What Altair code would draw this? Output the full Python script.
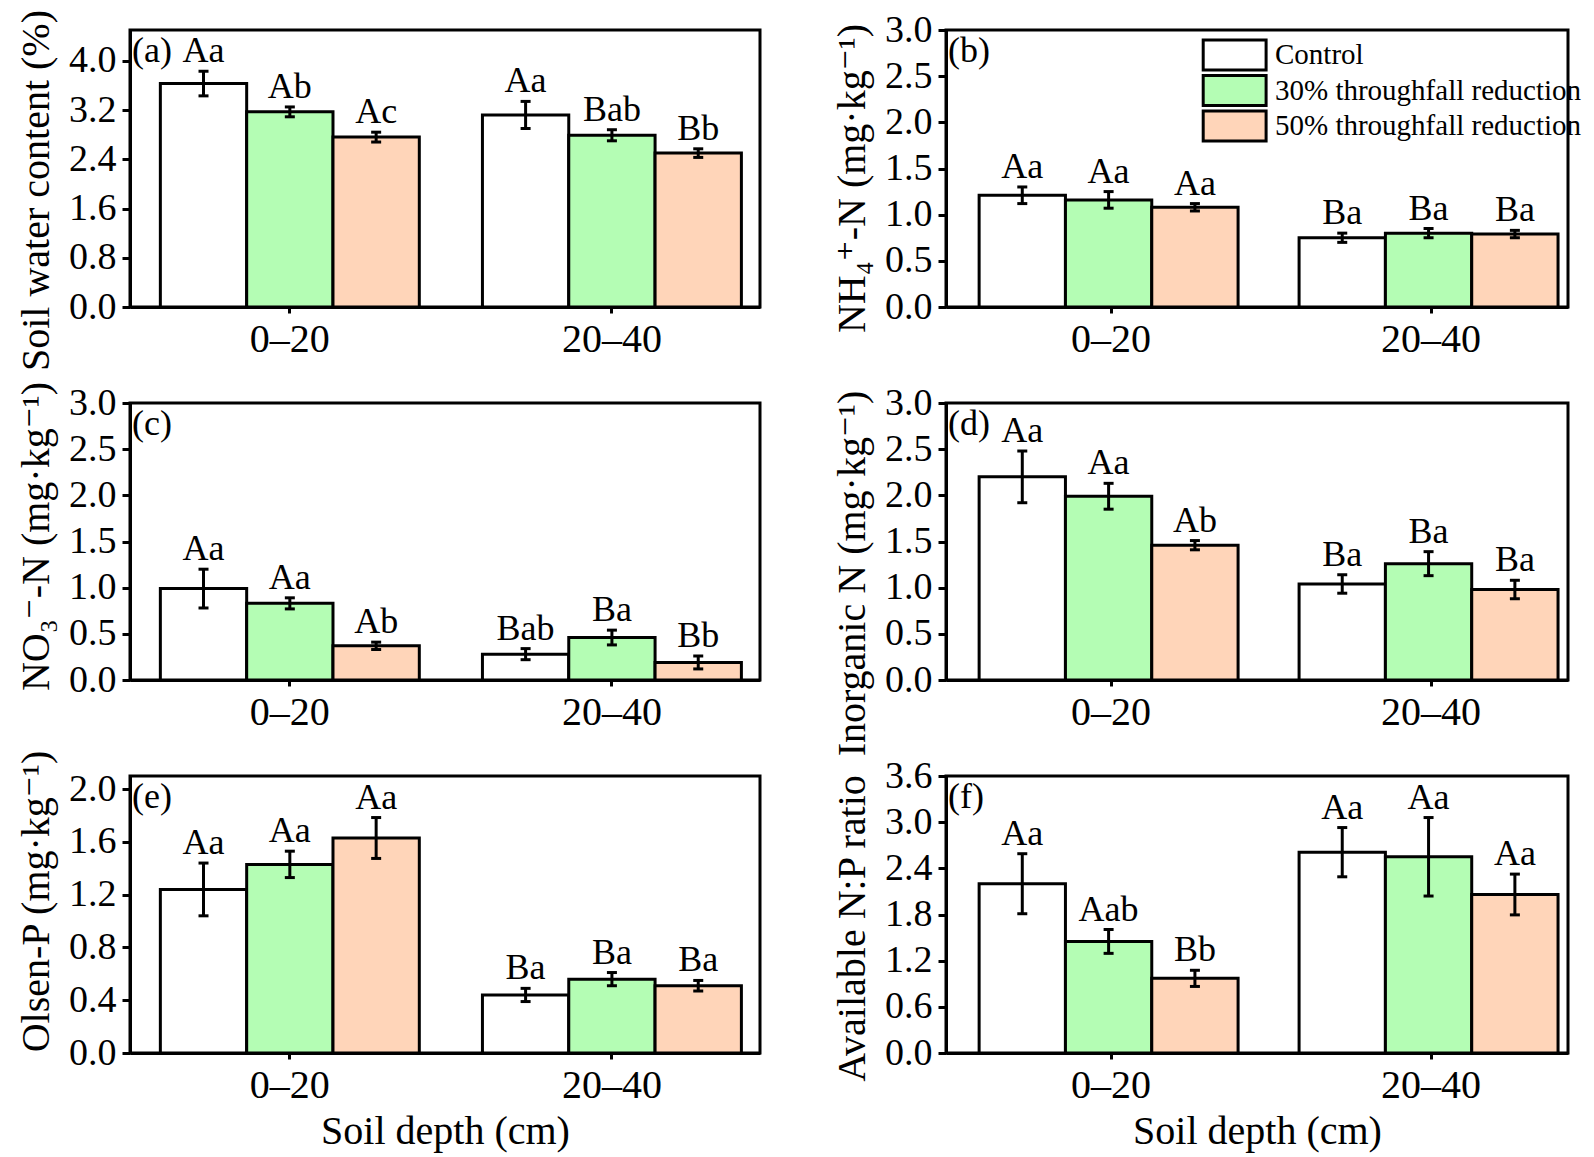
import altair as alt
import pandas as pd

FONT = "Liberation Serif, Times New Roman, DejaVu Serif, serif"

depths = ["0–20", "20–40"]
treatments = ["Control", "30% throughfall reduction", "50% throughfall reduction"]
colors = ["#ffffff", "#b4fdb4", "#ffd5b9"]

# order: (0–20: Control, 30%, 50%), (20–40: Control, 30%, 50%)
swc_mean = [3.63, 3.17, 2.76, 3.12, 2.79, 2.50]
swc_se = [0.20, 0.08, 0.08, 0.22, 0.09, 0.07]
swc_letters = ["Aa", "Ab", "Ac", "Aa", "Bab", "Bb"]

nh4_mean = [1.21, 1.16, 1.08, 0.75, 0.80, 0.79]
nh4_se = [0.09, 0.09, 0.04, 0.05, 0.05, 0.04]
nh4_letters = ["Aa", "Aa", "Aa", "Ba", "Ba", "Ba"]

no3_mean = [0.99, 0.83, 0.37, 0.28, 0.46, 0.19]
no3_se = [0.21, 0.06, 0.04, 0.06, 0.08, 0.07]
no3_letters = ["Aa", "Aa", "Ab", "Bab", "Ba", "Bb"]

inorg_mean = [2.20, 1.99, 1.46, 1.04, 1.26, 0.98]
inorg_se = [0.28, 0.14, 0.05, 0.10, 0.13, 0.10]
inorg_letters = ["Aa", "Aa", "Ab", "Ba", "Ba", "Ba"]

olsen_mean = [1.24, 1.43, 1.63, 0.44, 0.56, 0.51]
olsen_se = [0.20, 0.10, 0.155, 0.05, 0.05, 0.04]
olsen_letters = ["Aa", "Aa", "Aa", "Ba", "Ba", "Ba"]

np_mean = [2.20, 1.45, 0.97, 2.61, 2.55, 2.06]
np_se = [0.39, 0.155, 0.105, 0.32, 0.51, 0.265]
np_letters = ["Aa", "Aab", "Bb", "Aa", "Aa", "Aa"]

ticks_swc = [0.0, 0.8, 1.6, 2.4, 3.2, 4.0]
ticks_30 = [0.0, 0.5, 1.0, 1.5, 2.0, 2.5, 3.0]
ticks_olsen = [0.0, 0.4, 0.8, 1.2, 1.6, 2.0]
ticks_np = [0.0, 0.6, 1.2, 1.8, 2.4, 3.0, 3.6]


def make_panel(tag, mean, se, letters, ytitle, ymax, yticks, col, title_y,
               xtitle=None, legend=False):
    rows = []
    i = 0
    for d in depths:
        for t in treatments:
            rows.append({"depth": d, "treatment": t, "mean": mean[i],
                         "lo": mean[i] - se[i], "hi": mean[i] + se[i],
                         "letter": letters[i]})
            i += 1
    df = pd.DataFrame(rows)
    if col == 0:
        w, xs = 630, alt.Scale(paddingInner=0.196, paddingOuter=0.076, align=0.62)
    else:
        w, xs = 622, alt.Scale(paddingInner=0.175, paddingOuter=0.0595, align=0.87)
    xaxis = alt.Axis(title=xtitle, labelAngle=0, labelFontSize=40, tickSize=6,
                     labelPadding=6, titleFontSize=40, titlePadding=6)
    base = alt.Chart(df).encode(
        x=alt.X("depth:N", sort=depths, scale=xs, axis=xaxis),
        xOffset=alt.XOffset("treatment:N", sort=treatments,
                            scale=alt.Scale(paddingInner=0, paddingOuter=0)),
    )
    yscale = alt.Scale(domain=[0, ymax], nice=False, zero=True)
    yaxis = alt.Axis(title=ytitle, values=yticks, format=".1f", titleY=title_y,
                     titlePadding=12)
    if legend:
        leg = alt.Legend(orient="none", legendX=254, legendY=8, title=None,
                         symbolType="M-0.9,-0.88H2.8V0.88H-0.9Z", symbolSize=1156,
                         symbolStrokeColor="black", symbolStrokeWidth=3,
                         symbolOpacity=1, labelFont=FONT, labelFontSize=29,
                         labelColor="black", labelOffset=38, labelLimit=600,
                         clipHeight=34, rowPadding=1.5, padding=0)
    else:
        leg = None
    bars = base.mark_bar(stroke="black", strokeWidth=3, opacity=1).encode(
        y=alt.Y("mean:Q", scale=yscale, axis=yaxis),
        fill=alt.Fill("treatment:N", sort=treatments,
                      scale=alt.Scale(domain=treatments, range=colors),
                      legend=leg),
    )
    rule = base.mark_rule(color="black", strokeWidth=3).encode(
        y=alt.Y("lo:Q", scale=yscale), y2="hi:Q")
    cap_lo = base.mark_tick(color="black", size=10, thickness=3, opacity=1).encode(
        y=alt.Y("lo:Q", scale=yscale))
    cap_hi = base.mark_tick(color="black", size=10, thickness=3, opacity=1).encode(
        y=alt.Y("hi:Q", scale=yscale))
    txt = base.mark_text(font=FONT, fontSize=36, color="black", dy=-9,
                         baseline="alphabetic").encode(
        y=alt.Y("hi:Q", scale=yscale), text="letter:N")
    tagc = alt.Chart(pd.DataFrame({"tag": [tag]})).mark_text(
        font=FONT, fontSize=36, color="black", align="left", baseline="top"
    ).encode(x=alt.value(2), y=alt.value(4), text="tag:N")
    return alt.layer(bars, rule, cap_lo, cap_hi, txt, tagc).properties(
        width=w, height=277)


pa = make_panel("(a)", swc_mean, swc_se, swc_letters, "Soil water content (%)",
                4.5, ticks_swc, 0, 160)
pb = make_panel("(b)", nh4_mean, nh4_se, nh4_letters, "NH₄⁺-N (mg·kg⁻¹)",
                3.0, ticks_30, 1, 148, legend=True)
pc = make_panel("(c)", no3_mean, no3_se, no3_letters, "NO₃⁻-N (mg·kg⁻¹)",
                3.0, ticks_30, 0, 133)
pd_ = make_panel("(d)", inorg_mean, inorg_se, inorg_letters, "Inorganic N (mg·kg⁻¹)",
                 3.0, ticks_30, 1, 170)
pe = make_panel("(e)", olsen_mean, olsen_se, olsen_letters, "Olsen-P (mg·kg⁻¹)",
                2.1, ticks_olsen, 0, 125, xtitle="Soil depth (cm)")
pf = make_panel("(f)", np_mean, np_se, np_letters, "Available N:P ratio",
                3.6, ticks_np, 1, 152, xtitle="Soil depth (cm)")

chart = alt.concat(pa, pb, pc, pd_, pe, pf, columns=2, bounds="flush",
                   spacing=alt.RowColnumber(row=96, column=186)).resolve_legend(
    fill="independent"
).configure(
    padding={"left": 6, "top": 0, "right": 0, "bottom": 0},
    background="white",
).configure_view(
    stroke="black", strokeWidth=3
).configure_axis(
    domainColor="black", domainWidth=3, tickColor="black", tickWidth=3,
    tickSize=8, labelFont=FONT, labelFontSize=38, labelColor="black",
    labelPadding=6, titleFont=FONT, titleFontSize=40, titleFontWeight="normal",
    titleColor="black", grid=False
)

chart.save("out.html", embed_options={"renderer": "svg", "actions": False})
